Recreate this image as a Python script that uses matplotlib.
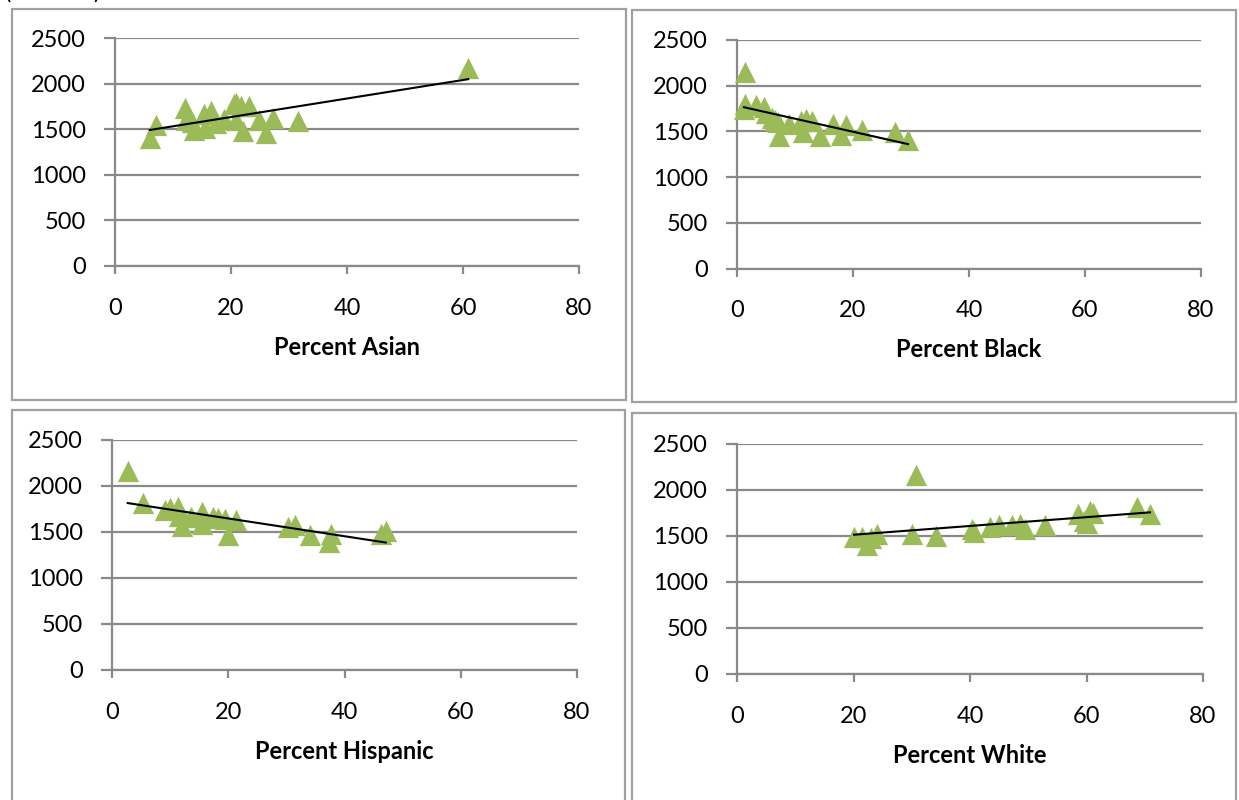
import numpy as np
import matplotlib.pyplot as plt
from matplotlib.patches import Rectangle

plt.rcParams['font.family'] = ['Lato', 'DejaVu Sans']

# percent of each group vs. SAT score
asian_pct = [60.9, 6.0, 7.0, 12.1, 12.2, 13.6, 13.2, 15.4, 15.6, 16.5, 17.4,
             18.8, 20.6, 20.8, 20.8, 21.7, 22.0, 23.1, 24.9, 26.0, 27.2, 31.5]
asian_sat = [2170, 1400, 1550, 1730, 1600, 1495, 1580, 1665, 1510, 1700, 1565,
             1615, 1775, 1790, 1600, 1755, 1480, 1755, 1600, 1460, 1625, 1590]

black_pct = [1.3, 1.3, 1.2, 3.3, 4.6, 5.0, 6.1, 7.3, 7.0, 9.0, 11.0,
             11.9, 11.3, 13.0, 14.3, 16.6, 18.0, 18.8, 21.6, 27.2, 29.5, 6.5]
black_sat = [2150, 1800, 1740, 1790, 1765, 1700, 1650, 1455, 1600, 1580, 1615,
             1635, 1495, 1615, 1455, 1580, 1460, 1565, 1520, 1495, 1405, 1620]

hisp_pct = [2.7, 5.4, 9.1, 10.0, 11.3, 12.0, 11.6, 13.6, 15.4, 15.4, 17.4,
            18.3, 19.4, 19.9, 21.3, 30.3, 31.4, 34.1, 37.4, 37.7, 46.2, 47.1]
hisp_sat = [2160, 1810, 1740, 1765, 1775, 1570, 1670, 1660, 1720, 1590, 1660,
            1650, 1640, 1465, 1635, 1555, 1575, 1470, 1395, 1480, 1480, 1515]

white_pct = [30.8, 20.1, 21.5, 22.3, 23.0, 24.1, 30.1, 34.1, 40.4, 40.7, 43.4,
             45.0, 47.2, 48.6, 49.5, 52.9, 58.6, 59.5, 60.6, 61.2, 60.0, 68.7, 70.9]
white_sat = [2160, 1485, 1485, 1400, 1480, 1525, 1525, 1495, 1580, 1545, 1595,
             1620, 1615, 1630, 1580, 1620, 1735, 1665, 1770, 1755, 1640, 1815, 1735]

x_ticks = [0, 20, 40, 60, 80]
y_ticks = [0, 500, 1000, 1500, 2000, 2500]

W, H = 1239, 800
GRID = '#898989'
GREEN = '#9bbb59'

fig = plt.figure(figsize=(W / 100, H / 100), dpi=100)

def px_axes(left, right, top, bottom):
    return fig.add_axes([left / W, 1 - bottom / H, (right - left) / W, (bottom - top) / H])

def px_box(left, top, right, bottom):
    r = Rectangle((left / W, 1 - bottom / H), (right - left) / W, (bottom - top) / H,
                  transform=fig.transFigure, fill=False, edgecolor='#a0a0a0', lw=1.6)
    fig.patches.append(r)

panels = [
    (asian_pct, asian_sat, 'Percent Asian', (115, 579, 38, 266), (12, 9, 626, 400)),
    (black_pct, black_sat, 'Percent Black', (737, 1201, 40, 268.5), (632, 10, 1236, 402)),
    (hisp_pct, hisp_sat, 'Percent Hispanic', (112, 577, 440, 670), (12, 410, 625, 812)),
    (white_pct, white_sat, 'Percent White', (737, 1203, 444, 674), (632, 413, 1236, 812)),
]

for xs, ys, label, ax_px, box_px in panels:
    px_box(*box_px)
    ax = px_axes(*ax_px)
    ax.scatter(xs, ys, marker='^', s=235, color=GREEN, linewidths=0, zorder=3, clip_on=False)
    # linear trend line
    k, b = np.polyfit(xs, ys, 1)
    tx = np.array([min(xs), max(xs)])
    ax.plot(tx, k * tx + b, color='black', lw=1.5, zorder=4)

    ax.set_xlim(0, 80)
    ax.set_ylim(0, 2500)
    ax.set_xticks(x_ticks)
    ax.set_yticks(y_ticks)
    ax.grid(axis='y', color=GRID, lw=1.6, zorder=0)
    ax.set_axisbelow(True)
    for s in ['top', 'right']:
        ax.spines[s].set_visible(False)
    for s in ['left', 'bottom']:
        ax.spines[s].set_color(GRID)
        ax.spines[s].set_linewidth(1.6)
    ax.tick_params(axis='y', length=8, width=1.6, color=GRID, pad=13, labelsize=17)
    ax.tick_params(axis='x', length=6, width=1.6, color=GRID, pad=17, labelsize=17)
    ax.set_xlabel(label, fontsize=17, fontweight='bold', labelpad=12)

# clipped caption remnant at the very top
fig.text(5 / W, 1 + 1.5 / H, '(', fontsize=17, va='baseline')
fig.text(93 / W, 1 + 1.5 / H, ')', fontsize=17, va='baseline')

fig.savefig('out.png', dpi=100)
